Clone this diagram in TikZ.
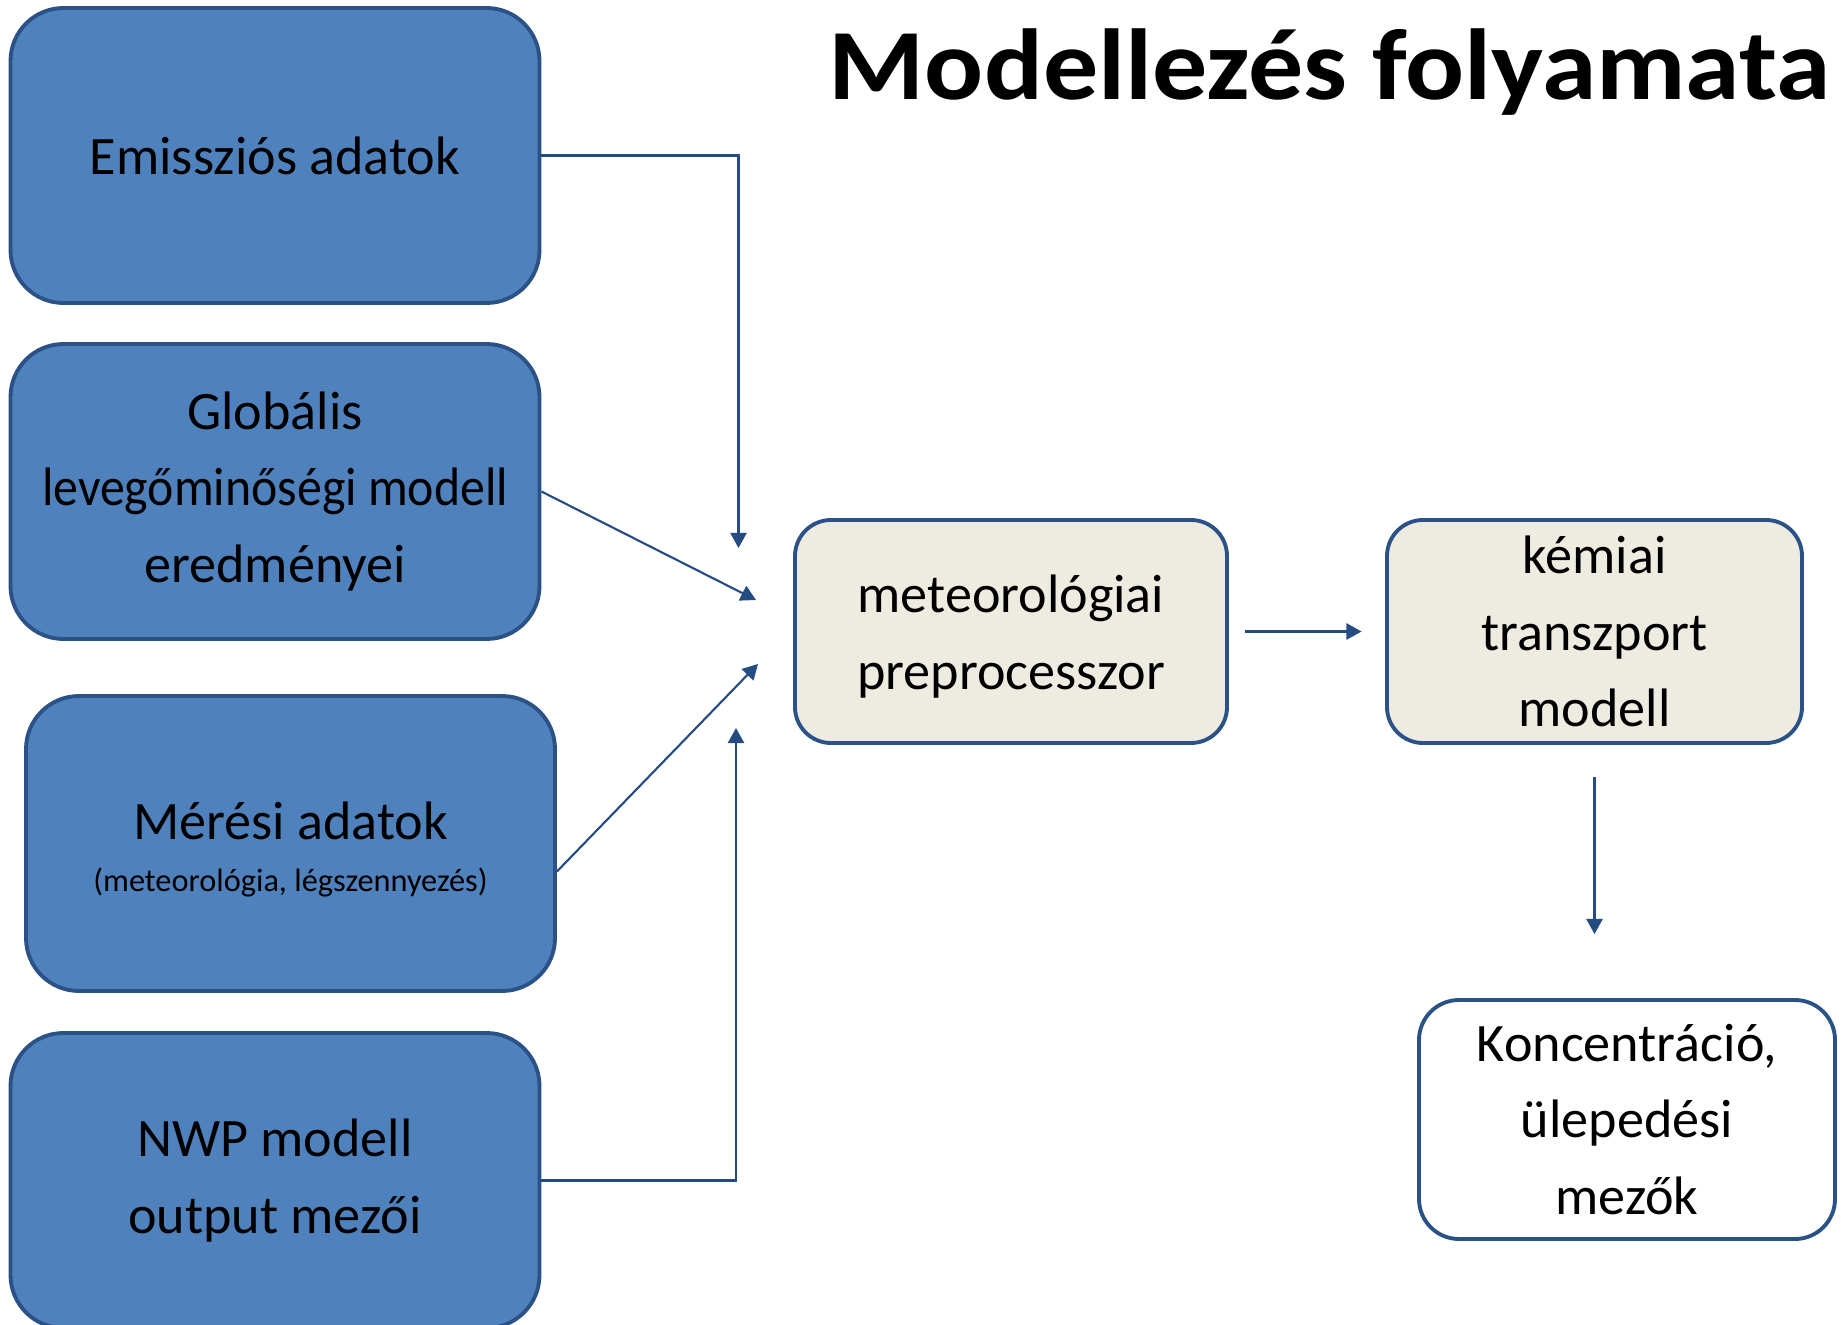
\documentclass[tikz,border=0pt]{standalone}
\usepackage{fontspec}
\setmainfont{Carlito}
\newfontfamily\titlefont{Carlito}[FakeStretch=1.09]
\usetikzlibrary{arrows.meta}
\definecolor{boxblue}{HTML}{4F81BD}
\definecolor{edgeblue}{HTML}{2B5287}
\definecolor{lineblue}{HTML}{254C82}
\definecolor{tan}{HTML}{EEECE1}
\def\bw{5.29}
\def\bh{2.95}
\def\textsize{\fontsize{15.4}{21.8}\selectfont}
\def\arrowtip{Triangle[length=4.3pt,width=4.6pt]}

\begin{document}
\begin{tikzpicture}[
    inbox/.style={draw=edgeblue, line width=1.1pt, fill=boxblue, rounded corners=0.53cm,
        minimum width=\bw cm, minimum height=\bh cm, align=center, font=\textsize, inner sep=0pt},
    procbox/.style={draw=edgeblue, line width=1.1pt, fill=tan, rounded corners=0.36cm,
        minimum height=2.23cm, align=center, font=\textsize, inner sep=0pt},
    outbox/.style={draw=edgeblue, line width=1.1pt, fill=white, rounded corners=0.4cm,
        minimum width=4.16cm, minimum height=2.39cm, align=center, font=\textsize, inner sep=0pt},
    flow/.style={draw=lineblue, line width=0.6pt, -{\arrowtip}},
]

% page
\clip (0,0) rectangle (18.41,13.24);
\fill[white] (0,0) rectangle (18.41,13.24);

% Title
\node[anchor=base, font=\titlefont\fontsize{28.7}{34}\selectfont\bfseries] (cim) at (13.295,12.24) {Modellezés folyamata};

% Input blocks
\node[inbox] (emis) at (2.75,11.685) {Emissziós adatok};
\node[inbox] (glob) at (2.75,8.325) {Globális\\{\addfontfeature{FakeStretch=0.92}levegőminőségi modell}\\eredményei};
\node[inbox] (meres) at (2.905,4.805) {\rule{0pt}{14pt}Mérési adatok\\[-7pt]{\fontsize{9.2}{12}\selectfont(meteorológia, légszennyezés)}};
\node[inbox] (nwp) at (2.75,1.435) {NWP modell\\output mezői};

% Model chain
\node[procbox, minimum width=4.32cm] (meteo) at (10.11,6.925) {\rule{0pt}{13.7pt}meteorológiai\\preprocesszor};
\node[procbox, minimum width=4.15cm] (kem) at (15.945,6.925) {kémiai\\transzport\\modell};
\node[outbox] (konc) at (16.27,2.045) {Koncentráció,\\ülepedési\\mezők};

% Arrow ends in front of the preprocessor
\coordinate (in1) at (7.385,7.76);
\coordinate (in2) at (7.56,7.24);
\coordinate (in3) at (7.58,6.60);
\coordinate (in4) at (7.36,5.96);

% Connectors
\draw[flow] (emis.east) -| (in1); % emission data
\draw[flow] (glob.east) -- (in2); % global model
\draw[flow] ([yshift=-0.28cm]meres.east) -- (in3); % measurements
\draw[flow] (nwp.east) -| (in4); % NWP output
\draw[flow, shorten <=0.16cm, shorten >=0.235cm] (meteo.east) -- (kem.west); % to CTM
\draw[flow, shorten <=0.32cm, shorten >=0.64cm] (kem.south) -- (kem.south |- konc.north); % to fields

\end{tikzpicture}
\end{document}
